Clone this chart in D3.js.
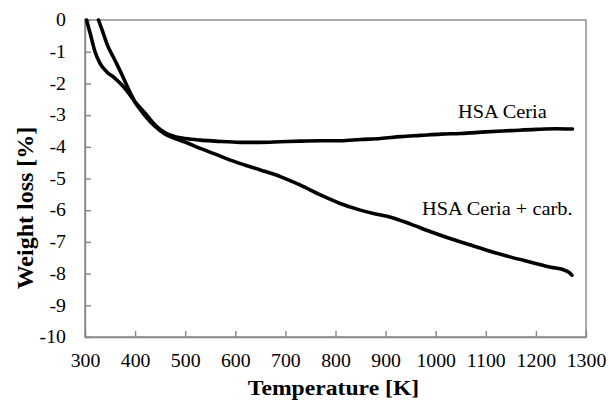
<!DOCTYPE html>
<html>
<head>
<meta charset="utf-8">
<script src="https://cdn.jsdelivr.net/npm/d3@7"></script>
<style>
body { margin: 0; background: #fff; }
</style>
</head>
<body>
<svg id="chart"></svg>
<script>
// HSA Ceria
const ceriaT = [303, 310, 320, 330, 343, 360, 380, 400, 420, 440, 460, 480, 500, 530, 560, 610, 650, 690, 730, 770, 810, 850, 890, 930, 970, 1010, 1050, 1100, 1150, 1200, 1240, 1273];
const ceriaW = [0, -0.4, -1.0, -1.37, -1.63, -1.84, -2.16, -2.58, -2.94, -3.31, -3.56, -3.68, -3.74, -3.79, -3.82, -3.86, -3.86, -3.84, -3.82, -3.81, -3.81, -3.77, -3.74, -3.68, -3.64, -3.6, -3.58, -3.53, -3.49, -3.45, -3.43, -3.44];

// HSA Ceria + carb.
const carbT = [327, 336, 346, 356, 366, 375, 383, 392, 400, 410, 420, 440, 460, 480, 500, 530, 560, 590, 620, 650, 690, 730, 770, 808, 848, 880, 910, 950, 990, 1030, 1070, 1110, 1150, 1190, 1230, 1255, 1265, 1272];
const carbW = [0, -0.4, -0.84, -1.15, -1.47, -1.77, -2.05, -2.35, -2.6, -2.82, -3.02, -3.36, -3.6, -3.74, -3.85, -4.05, -4.23, -4.42, -4.58, -4.73, -4.94, -5.21, -5.52, -5.78, -5.99, -6.12, -6.22, -6.44, -6.68, -6.9, -7.1, -7.3, -7.48, -7.64, -7.8, -7.88, -7.95, -8.05];

const xTicks = [300, 400, 500, 600, 700, 800, 900, 1000, 1100, 1200, 1300];
const yTicks = [0, -1, -2, -3, -4, -5, -6, -7, -8, -9, -10];

const width = 609;
const height = 400;
const margin = {top: 20, right: 23, bottom: 63, left: 85};
const serif = '"Liberation Serif"';

const svg = d3.select("#chart")
    .attr("width", width)
    .attr("height", height);

const x = d3.scaleLinear().domain([300, 1300]).range([margin.left, width - margin.right]);
const y = d3.scaleLinear().domain([-10, 0]).range([height - margin.bottom, margin.top]);

const axisColor = "#868686";

// frame
svg.append("rect")
    .attr("x", x(300))
    .attr("y", y(0))
    .attr("width", x(1300) - x(300))
    .attr("height", y(-10) - y(0))
    .attr("fill", "none")
    .attr("stroke", axisColor)
    .attr("stroke-width", 1.4);

const xAxis = svg.append("g")
    .attr("transform", `translate(0,${y(-10)})`)
    .call(d3.axisBottom(x).tickValues(xTicks).tickSizeInner(-6).tickSizeOuter(0).tickPadding(17).tickFormat(d => String(d)));

const yAxis = svg.append("g")
    .attr("transform", `translate(${x(300)},0)`)
    .call(d3.axisLeft(y).tickValues(yTicks).tickSizeInner(-6).tickSizeOuter(0).tickPadding(19).tickFormat(d => String(d)));

[xAxis, yAxis].forEach(g => {
    g.attr("font-family", null).attr("font-size", null);
    g.select(".domain").attr("stroke", axisColor).attr("stroke-width", 1.4);
    g.selectAll(".tick line").attr("stroke", axisColor).attr("stroke-width", 1.4);
    g.selectAll(".tick text")
        .style("font-family", serif)
        .style("font-size", "18px")
        .attr("fill", "#000");
});

// stretch text a little sideways, as in the original
function widen(sel, k) {
    sel.each(function() {
        const w = this.getComputedTextLength();
        d3.select(this).attr("textLength", w * k).attr("lengthAdjust", "spacingAndGlyphs");
    });
}
widen(xAxis.selectAll(".tick text"), 1.1);
widen(yAxis.selectAll(".tick text"), 1.1);

// curves
const line = d3.line()
    .x(d => x(d[0]))
    .y(d => y(d[1]))
    .curve(d3.curveMonotoneX);

const series = [
    ceriaT.map((t, i) => [t, ceriaW[i]]),
    carbT.map((t, i) => [t, carbW[i]])
];

svg.selectAll("path.curve")
    .data(series)
    .enter().append("path")
    .attr("class", "curve")
    .attr("d", line)
    .attr("fill", "none")
    .attr("stroke", "#000")
    .attr("stroke-width", 3.6)
    .attr("stroke-linejoin", "round")
    .attr("stroke-linecap", "round");

// labels
const labels = [
    {text: "HSA Ceria", x: 458, y: 118},
    {text: "HSA Ceria + carb.", x: 422, y: 215}
];
svg.selectAll("text.label")
    .data(labels)
    .enter().append("text")
    .attr("class", "label")
    .attr("x", d => d.x)
    .attr("y", d => d.y)
    .style("font-family", serif)
    .style("font-size", "18.5px")
    .text(d => d.text)
    .call(widen, 1.1);

// axis titles
svg.append("text")
    .attr("x", (x(300) + x(1300)) / 2 - 2)
    .attr("y", 395)
    .attr("text-anchor", "middle")
    .style("font-family", serif)
    .style("font-size", "21.5px")
    .style("font-weight", "bold")
    .text("Temperature [K]")
    .call(widen, 1.1);

svg.append("text")
    .attr("transform", "translate(33,208) rotate(-90)")
    .attr("text-anchor", "middle")
    .style("font-family", serif)
    .style("font-size", "24px")
    .style("font-weight", "bold")
    .text("Weight loss [%]");
</script>
</body>
</html>
